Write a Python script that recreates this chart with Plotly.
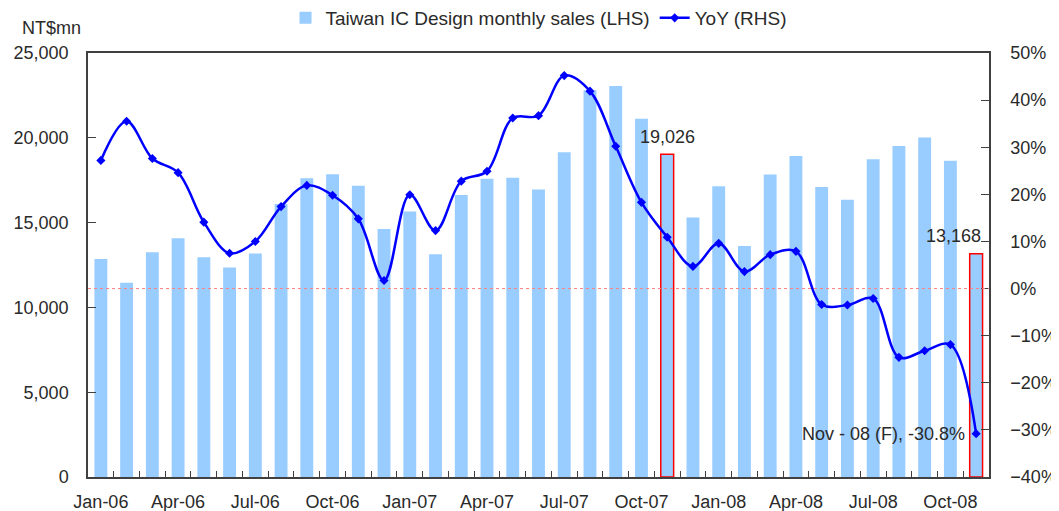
import plotly.graph_objects as go

months = ["Jan-06","Feb-06","Mar-06","Apr-06","May-06","Jun-06","Jul-06","Aug-06","Sep-06","Oct-06","Nov-06","Dec-06",
          "Jan-07","Feb-07","Mar-07","Apr-07","May-07","Jun-07","Jul-07","Aug-07","Sep-07","Oct-07","Nov-07","Dec-07",
          "Jan-08","Feb-08","Mar-08","Apr-08","May-08","Jun-08","Jul-08","Aug-08","Sep-08","Oct-08","Nov-08"]
sales = [12850, 11450, 13250, 14080, 12950, 12350, 13180, 16100, 17620, 17850, 17180, 14620,
         15650, 13130, 16620, 17580, 17640, 16950, 19150, 22800, 23050, 21120, 19026, 15300,
         17150, 13620, 17830, 18920, 17100, 16350, 18730, 19520, 20020, 18650, 13168]
yoy = [27.2, 35.5, 27.6, 24.6, 14.1, 7.5, 10.0, 17.4, 21.9, 19.8, 14.8, 1.7,
       19.9, 12.3, 22.8, 24.9, 36.2, 36.7, 45.2, 41.9, 30.2, 18.3, 10.9, 4.7,
       9.6, 3.6, 7.2, 7.9, -3.4, -3.5, -2.1, -14.6, -13.2, -11.9, -30.8]
highlight = ["Nov-07", "Nov-08"]

x = list(range(len(months)))
yoy_frac = [v / 100 for v in yoy]
line_cols = ["red" if m in highlight else "rgba(0,0,0,0)" for m in months]
line_w = [1.5 if m in highlight else 0 for m in months]

FONT = "Liberation Sans, Arial, sans-serif"
FS = 18
TXT = "#2a2a2a"
AX = "#404040"

# page body has an 8px margin; size the figure to fill the remaining viewport
W, H = 1051, 503
L, R, T, B = 80, 70, 45, 34
PW, PH = W - L - R, H - T - B

fig = go.Figure()
fig.add_trace(go.Bar(
    x=x, y=sales, name="Taiwan IC Design monthly sales (LHS)",
    marker=dict(color="#99CCFF", line=dict(color=line_cols, width=line_w)),
    width=0.5, yaxis="y",
))
fig.add_trace(go.Scatter(
    x=x, y=yoy_frac, name="YoY (RHS)", yaxis="y2", mode="lines+markers",
    line=dict(color="#0000FF", width=2.5, shape="spline", smoothing=1.0),
    marker=dict(symbol="diamond", size=7, color="#0000FF"),
))

fig.update_layout(
    width=W, height=H,
    margin=dict(l=L, r=R, t=T, b=B, autoexpand=False),
    paper_bgcolor="white", plot_bgcolor="white",
    font=dict(family=FONT, size=FS, color=TXT),
    showlegend=True,
    legend=dict(orientation="h", x=(531 - L) / PW, xanchor="center", y=1 + (T - 10) / PH, yanchor="middle",
                font=dict(size=19, color=TXT), bgcolor="rgba(0,0,0,0)", traceorder="normal",
                itemwidth=30),
    xaxis=dict(
        range=[-0.5, len(months) - 0.5], automargin=False,
        tickmode="array", tickvals=x[::3], ticktext=months[::3],
        ticks="", showgrid=False, zeroline=False,
        showline=True, linecolor=AX, linewidth=1.5, mirror=True,
        tickfont=dict(size=FS, color=TXT), ticklabelstandoff=8,
        minor=dict(tickvals=[i + 0.5 for i in x[:-1]], ticks="inside", ticklen=6,
                   tickcolor=AX, tickwidth=1.2, showgrid=False),
    ),
    yaxis=dict(
        range=[0, 25000], dtick=5000, tickformat=",", showgrid=False, zeroline=False,
        automargin=False,
        showline=True, linecolor=AX, linewidth=1.5, ticks="inside", ticklen=8,
        tickcolor=AX, tickwidth=1.2, tickfont=dict(size=FS, color=TXT), ticklabelstandoff=14,
    ),
    yaxis2=dict(
        range=[-0.4, 0.5], dtick=0.1, tickformat=".0%", overlaying="y", side="right",
        automargin=False,
        showgrid=False, zeroline=False, showline=True, linecolor=AX, linewidth=1.5,
        ticks="inside", ticklen=8, tickcolor=AX, tickwidth=1.2,
        tickfont=dict(size=FS, color=TXT), ticklabelstandoff=16,
    ),
    bargap=0.5,
)

# 0% reference line
fig.add_shape(type="line", xref="paper", x0=0, x1=1, yref="y2", y0=0, y1=0,
              line=dict(color="#FF8080", width=1, dash="dot"), layer="above")

i07 = months.index("Nov-07")
i08 = months.index("Nov-08")
fig.add_annotation(x=x[i07], y=sales[i07], xref="x", yref="y", text=f"{sales[i07]:,}",
                   showarrow=False, yanchor="bottom", yshift=5, font=dict(size=FS, color=TXT))
fig.add_annotation(x=x[i08], y=sales[i08], xref="x", yref="y", text=f"{sales[i08]:,}",
                   showarrow=False, xanchor="right", xshift=7, yanchor="bottom", yshift=6,
                   font=dict(size=FS, color=TXT))
fig.add_annotation(x=x[i08], y=yoy_frac[i08], xref="x", yref="y2",
                   text=f"Nov - 08 (F), {yoy[i08]}%", showarrow=False,
                   xanchor="right", xshift=-9, yanchor="middle", font=dict(size=FS, color=TXT))
fig.add_annotation(x=(12 - L) / PW, y=1 + (T - 20) / PH, xref="paper", yref="paper",
                   text="NT$mn", showarrow=False, xanchor="left", yanchor="middle",
                   font=dict(size=FS, color=TXT))

fig.write_html("out.html")
